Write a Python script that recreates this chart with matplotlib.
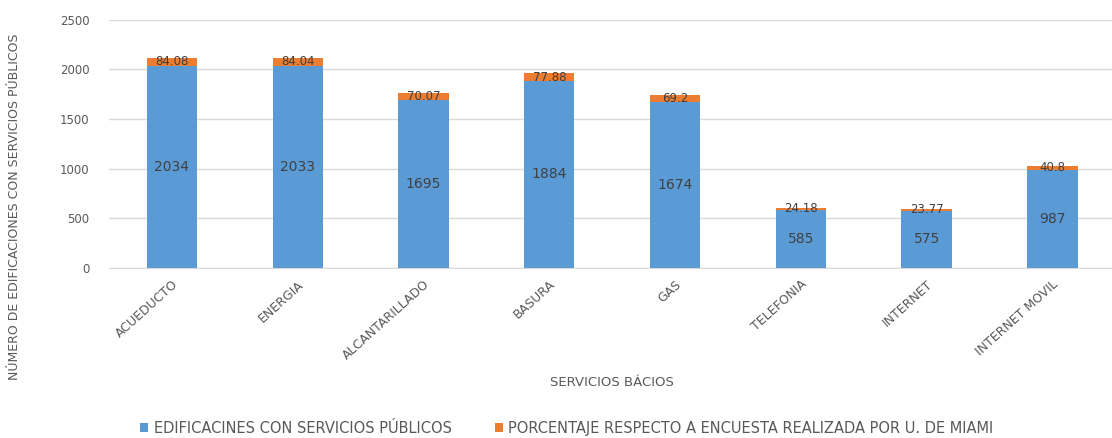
import matplotlib.pyplot as plt

plt.rcParams['font.family'] = ['Liberation Sans Narrow', 'DejaVu Sans']

# Data
servicios = ['ACUEDUCTO', 'ENERGIA', 'ALCANTARILLADO', 'BASURA', 'GAS',
             'TELEFONIA', 'INTERNET', 'INTERNET MOVIL']
edificaciones = [2034, 2033, 1695, 1884, 1674, 585, 575, 987]
porcentaje = [84.08, 84.04, 70.07, 77.88, 69.2, 24.18, 23.77, 40.8]

azul = '#5B9BD5'
naranja = '#ED7D31'
gris = '#595959'

fig = plt.figure(figsize=(11.12, 4.38), dpi=100)
ax = fig.add_axes([0.098, 0.388, 0.905, 0.567])

x = range(len(servicios))
b1 = ax.bar(x, edificaciones, width=0.4, color=azul,
            label='EDIFICACINES CON SERVICIOS PÚBLICOS', zorder=3)
b2 = ax.bar(x, porcentaje, width=0.4, bottom=edificaciones, color=naranja,
            label='PORCENTAJE RESPECTO A ENCUESTA REALIZADA POR U. DE MIAMI', zorder=3)

ax.bar_label(b1, labels=[str(v) for v in edificaciones], label_type='center',
             fontsize=10, color='#404040')
ax.bar_label(b2, labels=[f'{v:g}' for v in porcentaje], label_type='center',
             fontsize=8.5, color='#404040')

ax.set_xlim(-0.5, len(servicios) - 0.5)
ax.set_ylim(0, 2500)
ax.set_yticks(range(0, 2501, 500))
ax.yaxis.grid(True, color='#D9D9D9', linewidth=1, zorder=0)
for s in ['top', 'right', 'left']:
    ax.spines[s].set_visible(False)
ax.spines['bottom'].set_color('#D9D9D9')
ax.tick_params(axis='both', length=0, colors=gris)
ax.tick_params(axis='y', pad=14, labelsize=8.5)
ax.set_xticks(list(x))
ax.set_xticklabels(servicios, rotation=42, ha='right', rotation_mode='anchor',
                   fontsize=9)
ax.tick_params(axis='x', pad=7)

ax.set_xlabel('SERVICIOS BÁCIOS', fontsize=9.5, color=gris, labelpad=10)
ax.set_ylabel('NÚMERO DE EDIFICACIONES CON SERVICIOS PÚBLICOS', fontsize=9,
              color=gris)
ax.yaxis.set_label_coords(-0.087, 0.245)

fig.legend(loc='lower center', bbox_to_anchor=(0.51, -0.025), ncol=2, frameon=False,
           fontsize=10.5, labelcolor=gris, handlelength=0.5, handleheight=0.5,
           columnspacing=3, handletextpad=0.4)

fig.savefig('out.png', dpi=100)
